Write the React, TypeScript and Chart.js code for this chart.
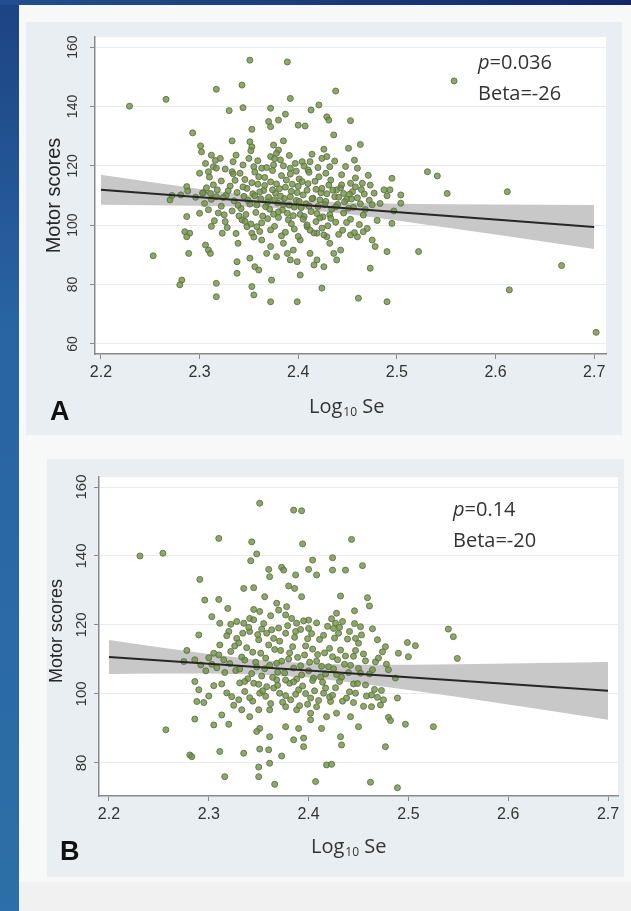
import React, { useEffect, useRef } from 'react';
import { Chart, registerables } from 'chart.js';

Chart.register(...registerables);

// ---------------- data ----------------
const xTickValues = [2.2, 2.3, 2.4, 2.5, 2.6, 2.7];
const yTickValuesA = [60, 80, 100, 120, 140, 160];
const yTickValuesB = [80, 100, 120, 140, 160];

const yTitle = 'Motor scores';
const xTitleMain = 'Log';
const xTitleSub = '10';
const xTitleTail = ' Se';

const pTextA = '=0.036';
const betaTextA = 'Beta=-26';
const pTextB = '=0.14';
const betaTextB = 'Beta=-20';

// regression fit and 95% CI band
const bandX = [2.2, 2.25, 2.3, 2.35, 2.4, 2.45, 2.5, 2.55, 2.6, 2.65, 2.7];
const upperA = [116.95, 114.56, 112.23, 110.06, 108.38, 107.56, 107.23, 107.06, 106.95, 106.86, 106.8];
const lowerA = [106.85, 106.74, 106.57, 106.24, 105.42, 103.74, 101.57, 99.24, 96.85, 94.44, 92.0];
const upperB = [115.65, 113.54, 111.55, 109.87, 108.83, 108.47, 108.47, 108.6, 108.8, 109.03, 109.27];
const lowerB = [105.75, 105.9, 105.93, 105.65, 104.73, 103.13, 101.17, 99.08, 96.92, 94.73, 92.53];
const fitX = [2.2, 2.7];
const fitYA = [111.9, 99.4];
const fitYB = [110.7, 100.9];

// panel A scatter points [log10 Se, motor score]
const pointsA: [number, number][] = [
  [2.351,155.6],[2.389,155.0],[2.343,147.2],[2.317,145.8],[2.438,145.2],[2.392,142.7],[2.330,138.6],[2.344,139.6],
  [2.372,139.4],[2.413,138.8],[2.421,140.5],[2.429,136.5],[2.431,135.4],[2.453,135.2],[2.370,134.9],[2.372,133.2],
  [2.380,135.4],[2.387,137.4],[2.400,133.7],[2.407,133.4],[2.293,131.1],[2.353,132.3],[2.436,130.4],[2.333,128.4],
  [2.351,128.1],[2.353,126.4],[2.375,127.0],[2.385,128.4],[2.380,125.3],[2.426,125.6],[2.451,125.9],[2.463,127.2],
  [2.301,126.7],[2.302,124.7],[2.312,123.6],[2.321,122.5],[2.306,120.8],[2.314,119.7],[2.309,118.0],[2.317,119.2],
  [2.300,117.5],[2.334,121.4],[2.333,118.0],[2.341,117.5],[2.350,122.5],[2.355,119.7],[2.363,119.2],[2.360,116.3],
  [2.372,123.1],[2.378,124.2],[2.382,122.0],[2.375,120.3],[2.392,119.2],[2.397,120.8],[2.404,121.4],[2.410,118.6],
  [2.412,121.4],[2.424,122.5],[2.429,123.1],[2.432,119.7],[2.460,119.2],[2.531,118.0],[2.541,116.6],[2.495,115.8],
  [2.487,111.9],[2.493,111.9],[2.504,110.2],[2.504,107.4],[2.551,110.7],[2.473,113.5],[2.465,114.1],[2.453,114.1],
  [2.455,111.3],[2.446,110.7],[2.439,111.9],
  [2.287,102.9],[2.285,97.8],[2.290,97.3],[2.287,96.1],[2.282,81.5],[2.280,79.9],[2.289,90.5],[2.306,93.3],
  [2.309,91.6],[2.311,90.5],[2.323,97.3],[2.326,101.2],[2.317,80.4],[2.317,75.9],[2.339,93.9],[2.338,87.7],
  [2.338,83.8],[2.353,79.3],[2.355,76.5],[2.356,86.0],[2.360,84.9],[2.351,88.9],[2.372,74.2],[2.373,81.5],
  [2.399,74.2],[2.402,83.2],[2.424,78.8],[2.426,86.0],[2.461,75.4],[2.490,74.2],[2.473,85.5],[2.490,91.1],
  [2.522,91.1],[2.478,92.8],[2.475,95.0],[2.466,97.8],[2.460,96.1],[2.453,96.7],[2.495,100.6],[2.443,91.6],
  [2.436,90.5],[2.439,88.3],[2.412,90.5],[2.419,88.3],[2.416,86.6],[2.389,90.5],[2.395,91.6],[2.392,88.3],
  [2.399,87.7],[2.385,93.9],[2.402,95.0],[2.372,92.8],[2.368,90.5],[2.378,89.4],[2.363,95.0],[2.358,99.5],
  [2.353,97.3],[2.348,99.5],[2.343,101.8],[2.424,99.0],[2.429,96.1],[2.419,97.3],[2.409,99.5],[2.432,93.9],
  [2.558,148.6],[2.612,111.3],[2.229,140.1],[2.266,142.4],[2.253,89.7],[2.614,78.2],[2.667,86.4],[2.702,63.9],
  [2.270,108.5],[2.272,110.0],[2.287,113.0],[2.304,111.0],[2.311,110.7],[2.317,109.6],
  [2.281,110.2],[2.288,111.5],[2.296,109.4],[2.303,110.8],[2.307,112.6],[2.312,108.7],[2.318,111.9],[2.322,106.4],
  [2.327,110.1],[2.331,113.2],[2.335,108.2],[2.338,111.0],[2.342,105.6],[2.345,109.7],[2.348,112.4],[2.351,107.1],
  [2.354,110.6],[2.357,104.3],[2.359,113.8],[2.362,108.9],[2.365,111.7],[2.367,106.2],[2.370,109.4],[2.372,114.6],
  [2.375,103.7],[2.377,110.8],[2.379,107.5],[2.381,112.3],[2.384,105.1],[2.386,109.0],[2.388,115.2],[2.391,106.8],
  [2.393,111.4],[2.395,103.2],[2.398,108.3],[2.400,113.1],[2.403,105.9],[2.405,110.2],[2.408,107.2],[2.410,114.0],
  [2.413,104.6],[2.415,109.1],[2.418,112.1],[2.420,106.3],[2.423,110.9],[2.425,102.8],[2.428,108.0],[2.431,113.5],
  [2.434,105.4],[2.437,109.6],[2.440,107.0],[2.443,112.6],[2.446,104.1],[2.449,108.7],[2.452,110.4],[2.456,106.0],
  [2.460,109.2],[2.464,112.0],[2.468,105.3],[2.472,108.4],[2.477,110.8],[2.483,107.3],[2.490,109.9],[2.497,104.8],
  [2.300,104.0],[2.315,101.5],[2.328,99.2],[2.340,103.1],[2.352,100.4],[2.361,97.9],[2.369,102.2],[2.376,99.6],
  [2.383,96.4],[2.390,101.8],[2.396,98.7],[2.402,103.6],[2.409,100.1],[2.416,97.4],[2.422,102.5],[2.430,99.8],
  [2.438,101.0],[2.445,98.3],[2.453,102.0],[2.462,100.2],[2.470,98.9],[2.480,101.6],
  [2.310,116.2],[2.322,114.9],[2.334,117.3],[2.346,115.4],[2.356,117.9],[2.366,116.1],[2.374,118.4],[2.383,116.7],
  [2.392,117.2],[2.401,115.6],[2.411,117.8],[2.421,116.3],[2.433,115.2],[2.444,117.0],[2.458,115.9],[2.471,116.8],
  [2.305,107.3],[2.309,105.2],[2.314,113.6],[2.319,104.1],[2.324,109.3],[2.329,111.6],[2.333,104.8],[2.336,115.1],
  [2.339,106.7],[2.344,112.9],[2.347,103.6],[2.349,108.4],[2.353,114.3],[2.356,109.9],[2.358,106.8],[2.361,111.2],
  [2.364,103.1],[2.366,113.4],[2.369,107.8],[2.371,105.4],[2.374,111.9],[2.376,108.6],[2.378,113.9],[2.380,104.5],
  [2.382,109.8],[2.385,107.0],[2.387,112.8],[2.389,104.0],[2.392,109.6],[2.394,113.8],[2.396,106.1],[2.399,111.0],
  [2.401,108.0],[2.404,114.7],[2.406,102.9],[2.409,111.8],[2.411,106.5],[2.414,108.9],[2.417,114.8],[2.419,103.9],
  [2.422,108.5],[2.424,112.4],[2.427,106.9],[2.429,110.6],[2.432,103.5],[2.435,111.8],[2.438,106.2],[2.441,109.4],
  [2.444,113.6],[2.447,107.9],[2.451,105.7],[2.454,108.8],[2.458,112.9],[2.463,107.2],[2.467,110.5],[2.475,106.9],
  [2.312,99.6],[2.325,103.5],[2.337,97.2],[2.346,101.3],[2.355,96.0],[2.363,100.8],[2.372,98.4],[2.380,102.6],
  [2.387,97.6],[2.393,100.5],[2.400,96.2],[2.405,102.0],[2.412,98.3],[2.418,101.2],[2.426,96.7],[2.433,102.3],
  [2.441,96.9],[2.449,100.9],[2.457,97.5],[2.466,103.4],
  [2.316,121.8],[2.326,118.9],[2.337,123.6],[2.344,120.3],[2.352,125.1],[2.359,121.7],[2.368,119.4],[2.376,122.4],
  [2.385,120.0],[2.391,123.5],[2.398,118.2],[2.406,119.9],[2.414,123.9],[2.420,119.4],[2.428,117.5],[2.437,121.6],
  [2.448,119.8],[2.457,121.9],
];

// panel B scatter points [log10 Se, motor score]
const pointsB: [number, number][] = [
  [2.351,155.3],[2.385,153.3],[2.393,153.1],[2.310,145.1],[2.343,144.1],[2.348,140.6],[2.342,138.6],[2.394,143.5],
  [2.443,144.8],[2.291,133.2],[2.296,127.2],[2.310,127.4],[2.335,130.6],[2.345,130.8],[2.356,128.2],[2.360,136.1],
  [2.361,134.0],[2.373,136.7],[2.375,135.9],[2.387,134.5],[2.400,136.1],[2.408,134.5],[2.404,138.8],[2.424,139.5],
  [2.424,135.9],[2.437,135.9],[2.454,137.2],[2.380,131.3],[2.386,130.6],[2.393,128.2],[2.432,128.4],[2.459,127.9],
  [2.461,125.5],[2.446,124.1],[2.319,124.8],[2.303,122.4],[2.311,120.5],[2.345,124.5],[2.351,123.9],[2.341,121.9],
  [2.335,120.5],[2.328,121.0],[2.370,124.3],[2.377,122.9],[2.368,126.3],[2.378,125.3],[2.400,121.4],[2.400,119.0],
  [2.388,120.5],[2.387,118.1],[2.428,123.4],[2.427,120.5],[2.430,117.6],[2.425,119.0],[2.452,119.5],[2.447,116.1],
  [2.450,114.7],[2.290,117.1],[2.320,118.1],[2.311,114.2],[2.328,116.1],[2.341,118.1],[2.350,115.7],[2.358,117.6],
  [2.365,116.1],[2.469,115.7],[2.477,113.7],[2.499,114.9],[2.507,114.0],[2.490,111.8],[2.500,110.8],[2.540,118.8],
  [2.545,116.6],[2.549,110.3],[2.278,112.6],[2.305,111.8],[2.275,109.4],[2.286,109.9],
  [2.286,103.6],[2.290,101.2],[2.288,97.8],[2.295,97.5],[2.286,92.7],[2.305,91.0],[2.320,91.2],[2.313,93.9],
  [2.311,83.3],[2.281,82.3],[2.283,81.8],[2.335,82.8],[2.351,84.0],[2.360,83.8],[2.373,82.0],[2.361,79.9],
  [2.350,78.8],[2.316,76.0],[2.350,76.0],[2.418,79.4],[2.423,79.6],[2.477,84.7],[2.497,91.2],[2.525,90.5],
  [2.480,93.2],[2.482,92.3],[2.475,98.3],[2.463,96.3],[2.489,98.8],[2.473,101.0],[2.463,99.7],[2.445,97.5],
  [2.457,102.6],[2.445,102.9],[2.442,93.4],[2.450,90.5],[2.432,87.6],[2.433,85.2],[2.413,90.0],[2.402,92.5],
  [2.395,87.2],[2.390,90.0],[2.395,84.7],[2.385,86.7],[2.377,90.5],[2.361,87.6],[2.351,90.0],[2.341,93.4],
  [2.348,89.1],[2.323,99.2],[2.330,98.3],[2.336,100.7],[2.345,103.1],[2.351,100.2],[2.358,102.1],[2.368,104.1],
  [2.371,100.2],[2.382,98.3],[2.390,101.2],[2.402,98.8],[2.408,96.3],[2.415,100.2],[2.422,97.8],[2.428,94.4],
  [2.418,93.4],[2.402,94.4],[2.388,95.4],[2.377,96.3],[2.361,95.4],[2.350,95.4],[2.333,95.4],
  [2.231,140.0],[2.254,140.8],[2.257,89.6],[2.366,73.8],[2.407,74.6],[2.462,74.4],[2.489,72.8],
  [2.292,108.4],[2.300,110.5],[2.308,107.6],[2.315,109.9],[2.322,112.3],[2.327,106.8],[2.333,110.7],[2.338,113.4],
  [2.343,105.9],[2.347,109.2],[2.352,111.8],[2.356,107.3],[2.360,114.2],[2.364,104.8],[2.368,108.9],[2.372,112.6],
  [2.376,106.1],[2.380,110.1],[2.384,113.7],[2.388,104.3],[2.392,108.2],[2.396,111.3],[2.400,106.7],[2.404,113.0],
  [2.408,109.5],[2.412,104.9],[2.416,111.9],[2.420,107.9],[2.424,110.8],[2.428,105.6],[2.432,112.7],[2.436,108.6],
  [2.440,106.2],[2.445,110.9],[2.450,107.4],[2.455,111.6],[2.461,105.8],[2.467,109.3],[2.474,112.2],[2.480,107.0],
  [2.487,104.6],
  [2.305,102.4],[2.318,100.3],[2.331,103.2],[2.341,98.9],[2.350,102.8],[2.357,99.3],[2.365,101.7],[2.374,97.6],
  [2.381,103.1],[2.387,99.9],[2.394,102.3],[2.399,97.0],[2.406,100.9],[2.414,103.4],[2.421,99.1],[2.427,101.8],
  [2.434,97.9],[2.441,100.6],[2.449,103.0],[2.458,99.4],[2.466,101.3],[2.472,96.8],
  [2.318,116.9],[2.330,114.8],[2.340,119.3],[2.349,117.2],[2.355,120.4],[2.363,118.6],[2.371,115.3],[2.379,119.8],
  [2.386,116.4],[2.395,121.2],[2.403,117.5],[2.411,115.8],[2.419,119.6],[2.426,116.2],[2.434,121.0],[2.441,118.1],
  [2.453,117.1],[2.464,118.9],
  [2.297,106.7],[2.303,108.6],[2.310,111.3],[2.316,106.2],[2.321,108.8],[2.326,113.9],[2.331,107.2],[2.336,109.8],
  [2.339,104.4],[2.344,112.1],[2.348,107.8],[2.353,105.2],[2.357,110.4],[2.361,108.3],[2.366,112.9],[2.369,106.3],
  [2.373,109.5],[2.377,104.0],[2.381,111.9],[2.385,107.5],[2.389,110.6],[2.393,105.5],[2.397,113.9],[2.401,109.2],
  [2.405,104.6],[2.409,111.4],[2.413,108.0],[2.417,105.8],[2.421,113.2],[2.425,107.3],[2.429,109.9],[2.433,104.9],
  [2.437,111.0],[2.442,108.3],[2.447,112.6],[2.452,106.0],[2.457,109.6],[2.464,107.0],[2.470,110.4],[2.478,108.6],
  [2.300,99.4],[2.313,102.9],[2.325,96.7],[2.336,103.6],[2.344,97.9],[2.354,100.9],[2.362,97.2],[2.369,102.5],
  [2.377,99.5],[2.385,103.5],[2.391,96.6],[2.397,100.1],[2.404,103.9],[2.410,98.1],[2.417,101.7],[2.424,99.6],
  [2.431,103.6],[2.438,98.8],[2.447,100.2],[2.455,96.4],[2.469,99.0],
  [2.322,120.2],[2.334,117.6],[2.345,121.5],[2.353,118.8],[2.362,122.7],[2.370,119.1],[2.377,117.6],[2.383,121.9],
  [2.392,118.7],[2.399,116.0],[2.408,120.6],[2.415,117.0],[2.423,121.8],[2.431,119.3],[2.439,115.9],[2.446,120.4],
];

// ---------------- layout (styles, not data) ----------------
type PanelCfg = {
  left: number; top: number; width: number; height: number;
  padTop: number; padRight: number; yAxisWidth: number; xAxisHeight: number;
  xMin: number; xMax: number; yMin: number; yMax: number;
  yTicks: number[]; points: [number, number][]; upper: number[]; lower: number[]; fitY: number[];
  yTickX: number; yTickFont: number; yTitleX: number; yTitleY: number; yTitleFont: number;
  xTitleX: number; xTitleY: number; letter: string; letterX: number; letterY: number; letterFont: number;
  annX: number; annY1: number; annY2: number; pText: string; betaText: string;
};

const panelA: PanelCfg = {
  left: 26, top: 22, width: 596, height: 413,
  padTop: 15, padRight: 16, yAxisWidth: 69, xAxisHeight: 81,
  xMin: 2.194, xMax: 2.712, yMin: 56.6, yMax: 163.4,
  yTicks: yTickValuesA, points: pointsA, upper: upperA, lower: lowerA, fitY: fitYA,
  yTickX: 47.5, yTickFont: 14, yTitleX: 28, yTitleY: 173.5, yTitleFont: 20,
  xTitleX: 283, xTitleY: 391, letter: 'A', letterX: 24, letterY: 398, letterFont: 27,
  annX: 452, annY1: 47, annY2: 77.5, pText: pTextA, betaText: betaTextA,
};

const panelB: PanelCfg = {
  left: 47, top: 459, width: 577, height: 418,
  padTop: 18, padRight: 6, yAxisWidth: 52, xAxisHeight: 81,
  xMin: 2.19, xMax: 2.71, yMin: 70.4, yMax: 162.9,
  yTicks: yTickValuesB, points: pointsB, upper: upperB, lower: lowerB, fitY: fitYB,
  yTickX: 34.5, yTickFont: 15, yTitleX: 10.5, yTitleY: 172, yTitleFont: 18,
  xTitleX: 264, xTitleY: 394, letter: 'B', letterX: 13, letterY: 401, letterFont: 27,
  annX: 406, annY1: 57, annY2: 88, pText: pTextB, betaText: betaTextB,
};

const SANS = '"Liberation Sans", Arial, sans-serif';
const OPEN = '"Open Sans", "Noto Sans", sans-serif';

function Panel({ cfg }: { cfg: PanelCfg }) {
  const ref = useRef<HTMLCanvasElement | null>(null);

  useEffect(() => {
    const canvas = ref.current;
    if (!canvas) return;
    const p = cfg;
    const deco = {
      id: 'deco',
      beforeDraw(chart: any) {
        const { ctx, chartArea: a } = chart;
        ctx.save();
        ctx.fillStyle = '#ffffff';
        ctx.fillRect(a.left, a.top, a.right - a.left, a.bottom - a.top);
        ctx.restore();
      },
      afterDraw(chart: any) {
        const ctx = chart.ctx as CanvasRenderingContext2D;
        const ys = chart.scales.y;
        ctx.save();
        ctx.fillStyle = '#353535';
        ctx.textAlign = 'center';
        ctx.textBaseline = 'middle';
        ctx.font = `${p.yTickFont}px ${SANS}`;
        for (const v of p.yTicks) {
          const py = ys.getPixelForValue(v);
          ctx.save();
          ctx.translate(p.yTickX, py);
          ctx.rotate(-Math.PI / 2);
          ctx.fillText(String(v), 0, 0);
          ctx.restore();
        }
        ctx.fillStyle = '#262626';
        ctx.font = `${p.yTitleFont}px ${SANS}`;
        ctx.save();
        ctx.translate(p.yTitleX, p.yTitleY);
        ctx.rotate(-Math.PI / 2);
        ctx.fillText(yTitle, 0, 0);
        ctx.restore();

        ctx.textAlign = 'left';
        ctx.textBaseline = 'alphabetic';
        ctx.fillStyle = '#333333';
        let x = p.xTitleX;
        ctx.font = `20px ${OPEN}`;
        ctx.fillText(xTitleMain, x, p.xTitleY);
        x += ctx.measureText(xTitleMain).width + 1;
        ctx.font = `12px ${OPEN}`;
        ctx.fillText(xTitleSub, x, p.xTitleY + 3);
        x += ctx.measureText(xTitleSub).width;
        ctx.font = `20px ${OPEN}`;
        ctx.fillText(xTitleTail, x, p.xTitleY);

        ctx.fillStyle = '#111111';
        ctx.font = `bold ${p.letterFont}px ${SANS}`;
        ctx.fillText(p.letter, p.letterX, p.letterY);

        ctx.fillStyle = '#333333';
        ctx.font = `italic 20px ${OPEN}`;
        ctx.fillText('p', p.annX, p.annY1);
        const w = ctx.measureText('p').width;
        ctx.font = `20px ${OPEN}`;
        ctx.fillText(p.pText, p.annX + w, p.annY1);
        ctx.fillText(p.betaText, p.annX, p.annY2);
        ctx.restore();
      },
    };

    const toXY = (xs: number[], ys: number[]) => xs.map((x, i) => ({ x, y: ys[i] }));

    const chart = new Chart(canvas, {
      type: 'scatter',
      data: {
        datasets: [
          {
            type: 'line',
            data: toXY(bandX, p.lower),
            borderWidth: 0,
            borderColor: 'rgba(0,0,0,0)',
            pointRadius: 0,
            fill: false,
            order: 3,
          } as any,
          {
            type: 'line',
            data: toXY(bandX, p.upper),
            borderWidth: 0,
            borderColor: 'rgba(0,0,0,0)',
            backgroundColor: '#c8c8c8',
            pointRadius: 0,
            fill: '-1',
            order: 3,
          } as any,
          {
            type: 'scatter',
            data: p.points.map(([x, y]) => ({ x, y })),
            pointRadius: 3,
            borderWidth: 1,
            backgroundColor: 'rgba(112,150,55,0.8)',
            borderColor: 'rgba(98,108,88,0.9)',
            order: 2,
          } as any,
          {
            type: 'line',
            data: toXY(fitX, p.fitY),
            borderColor: '#262626',
            borderWidth: 2,
            pointRadius: 0,
            fill: false,
            order: 1,
          } as any,
        ],
      },
      options: {
        responsive: false,
        animation: false,
        events: [],
        layout: { padding: { top: p.padTop, right: p.padRight, left: 0, bottom: 0 } },
        plugins: { legend: { display: false }, tooltip: { enabled: false } },
        scales: {
          x: {
            type: 'linear',
            min: p.xMin,
            max: p.xMax,
            afterBuildTicks: (s: any) => { s.ticks = xTickValues.map((v) => ({ value: v })); },
            afterFit: (s: any) => { s.height = p.xAxisHeight; },
            grid: { drawOnChartArea: false, drawTicks: true, tickLength: 5, tickColor: '#8a8a8a', color: '#8a8a8a' },
            border: { display: true, color: '#8a8a8a', width: 1.5 },
            ticks: {
              padding: 4,
              autoSkip: false,
              maxRotation: 0,
              color: '#333333',
              font: { size: 16, family: SANS },
              callback: (v: any) => Number(v).toFixed(1),
            },
          },
          y: {
            type: 'linear',
            min: p.yMin,
            max: p.yMax,
            afterBuildTicks: (s: any) => { s.ticks = p.yTicks.map((v) => ({ value: v })); },
            afterFit: (s: any) => { s.width = p.yAxisWidth; },
            grid: { color: '#e6ecef', lineWidth: 1, drawTicks: true, tickLength: 5, tickColor: '#8a8a8a' },
            border: { display: true, color: '#8a8a8a', width: 1.5 },
            ticks: { display: false },
          },
        },
      } as any,
      plugins: [deco],
    });
    return () => chart.destroy();
  }, [cfg]);

  return (
    <div
      style={{
        position: 'absolute',
        left: cfg.left,
        top: cfg.top,
        width: cfg.width,
        height: cfg.height,
        background: '#e8eef1',
      }}
    >
      <canvas ref={ref} width={cfg.width} height={cfg.height} style={{ display: 'block' }} />
    </div>
  );
}

export default function App() {
  return (
    <div
      style={{
        position: 'fixed',
        left: 0,
        top: 0,
        width: 631,
        height: 911,
        overflow: 'hidden',
        background: 'linear-gradient(180deg, #1d4384 0%, #2864a0 35%, #2d6fa8 100%)',
      }}
    >
      <div style={{ position: 'absolute', left: 0, top: 0, width: 631, height: 5, background: 'linear-gradient(90deg, #224f8f, #13276b)' }} />
      <div style={{ position: 'absolute', left: 19, top: 5, width: 612, height: 906, background: '#f7f8f8' }} />
      <div style={{ position: 'absolute', left: 19, top: 882, width: 612, height: 29, background: '#f1f1f1' }} />
      <Panel cfg={panelA} />
      <Panel cfg={panelB} />
    </div>
  );
}
